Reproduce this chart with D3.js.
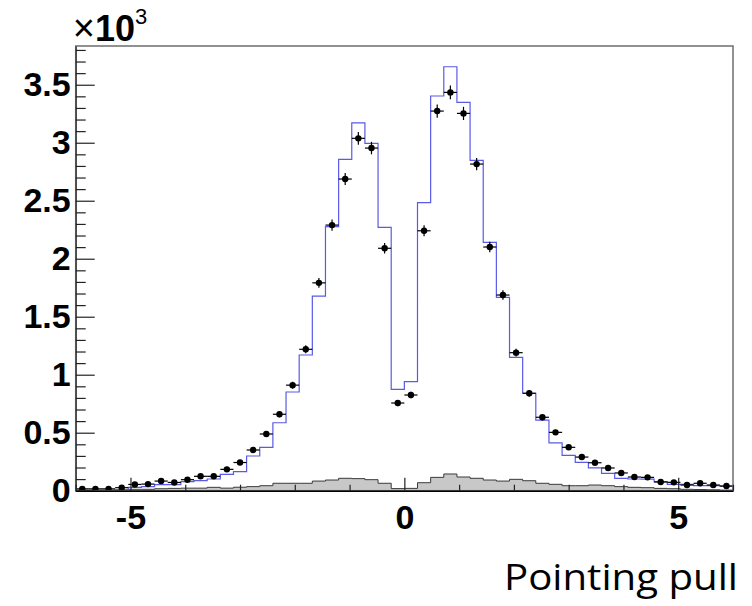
<!DOCTYPE html>
<html>
<head>
<meta charset="utf-8">
<script src="https://cdn.jsdelivr.net/npm/d3@7"></script>
<style>
  body { margin: 0; background: #fff; }
  svg { display: block; }
</style>
</head>
<body>
<svg width="752" height="606"></svg>
<script>
// values in units of 10^3 entries, 50 bins of width 0.24 from -6 to 6
const binWidth = 0.24;
const binLow = d3.range(50).map(i => -6 + i * binWidth);

const dataCounts = [0.016, 0.016, 0.016, 0.026, 0.054, 0.057, 0.083, 0.071, 0.095, 0.124,
                    0.124, 0.184, 0.243, 0.351, 0.489, 0.659, 0.910, 1.219, 1.792, 2.290,
                    2.687, 3.038, 2.954, 2.090, 0.756, 0.825, 2.241, 3.273, 3.434, 3.253,
                    2.816, 2.101, 1.687, 1.190, 0.840, 0.633, 0.503, 0.374, 0.290, 0.241,
                    0.196, 0.153, 0.118, 0.115, 0.075, 0.072, 0.049, 0.064, 0.049, 0.040];

const dataErrors = [0.004, 0.004, 0.004, 0.005, 0.007, 0.008, 0.009, 0.008, 0.010, 0.011,
                    0.011, 0.014, 0.016, 0.019, 0.022, 0.026, 0.030, 0.035, 0.042, 0.048,
                    0.052, 0.055, 0.054, 0.046, 0.027, 0.029, 0.047, 0.057, 0.059, 0.057,
                    0.053, 0.046, 0.041, 0.034, 0.029, 0.025, 0.022, 0.019, 0.017, 0.016,
                    0.014, 0.012, 0.011, 0.011, 0.009, 0.008, 0.007, 0.008, 0.007, 0.006];

const mcCounts = [0.005, 0.005, 0.005, 0.010, 0.029, 0.035, 0.052, 0.052, 0.078, 0.086,
                  0.101, 0.141, 0.164, 0.299, 0.374, 0.586, 0.851, 1.170, 1.678, 2.276,
                  2.857, 3.172, 2.995, 2.270, 0.874, 0.940, 2.483, 3.403, 3.655, 3.348,
                  2.848, 2.141, 1.667, 1.150, 0.840, 0.609, 0.412, 0.305, 0.245, 0.196,
                  0.150, 0.107, 0.101, 0.100, 0.078, 0.055, 0.055, 0.043, 0.043, 0.040];

const bkgCounts = [0.003, 0.003, 0.003, 0.004, 0.012, 0.012, 0.017, 0.020, 0.022, 0.022,
                   0.029, 0.022, 0.030, 0.035, 0.043, 0.064, 0.064, 0.064, 0.083, 0.092,
                   0.107, 0.104, 0.095, 0.064, 0.018, 0.020, 0.069, 0.115, 0.144, 0.118,
                   0.107, 0.092, 0.083, 0.098, 0.086, 0.064, 0.055, 0.043, 0.043, 0.049,
                   0.043, 0.035, 0.029, 0.026, 0.020, 0.017, 0.012, 0.010, 0.008, 0.005];

const xTicks = [-5, 0, 5];
const xMinor = [-6, -4, -3, -2, -1, 1, 2, 3, 4, 6];
const yTicks = [0, 0.5, 1, 1.5, 2, 2.5, 3, 3.5];
const yMinor = d3.range(0, 3.85, 0.1).map(d => +d.toFixed(1));

const svg = d3.select("svg");
const pLeft = 75.7, pRight = 733, pTop = 46, pBottom = 490.7;

const x = d3.scaleLinear().domain([-6, 6]).range([pLeft, pRight]);
const y = d3.scaleLinear().domain([0, 3.834]).range([pBottom, pTop]);

function stepPath(vals) {
  let p = "M" + x(-6) + "," + y(0);
  vals.forEach((v, i) => {
    p += "L" + x(binLow[i]) + "," + y(v) + "L" + x(binLow[i] + binWidth) + "," + y(v);
  });
  p += "L" + x(6) + "," + y(0);
  return p;
}

// background histogram (grey filled)
svg.append("path")
  .attr("d", stepPath(bkgCounts) + "Z")
  .attr("fill", "#c8c8c8")
  .attr("stroke", "#3a3a3a")
  .attr("stroke-width", 1);

// simulation histogram (blue line)
svg.append("path")
  .attr("d", stepPath(mcCounts))
  .attr("fill", "none")
  .attr("stroke", "#5a5ae6")
  .attr("stroke-width", 1.2);

// data points with error bars
const pts = svg.append("g");
dataCounts.forEach((v, i) => {
  const cx = x(binLow[i] + binWidth / 2);
  pts.append("line")
    .attr("x1", x(binLow[i])).attr("x2", x(binLow[i] + binWidth))
    .attr("y1", y(v)).attr("y2", y(v))
    .attr("stroke", "#000").attr("stroke-width", 1.2);
  pts.append("line")
    .attr("x1", cx).attr("x2", cx)
    .attr("y1", y(v - dataErrors[i])).attr("y2", y(v + dataErrors[i]))
    .attr("stroke", "#000").attr("stroke-width", 1.2);
  pts.append("circle")
    .attr("cx", cx).attr("cy", y(v))
    .attr("r", 3.2)
    .attr("fill", "#000");
});

// frame
svg.append("rect")
  .attr("x", pLeft).attr("y", pTop)
  .attr("width", pRight - pLeft).attr("height", pBottom - pTop)
  .attr("fill", "none")
  .attr("stroke", "#6e6e6e")
  .attr("stroke-width", 1.5);

// y axis
const yAxis = d3.axisLeft(y).tickValues(yTicks).tickSizeInner(-19).tickSizeOuter(0)
  .tickPadding(5).tickFormat(d => d);
const yg = svg.append("g").attr("transform", "translate(" + pLeft + ",0)").call(yAxis);
yg.select(".domain").attr("stroke", "#444").attr("stroke-width", 1.5);
yg.selectAll(".tick line").attr("stroke", "#222").attr("stroke-width", 1.2);
yg.selectAll("text")
  .attr("font-family", "Liberation Sans, Arial, sans-serif")
  .attr("font-weight", "bold")
  .attr("font-size", 34)
  .attr("fill", "#000");

const yMinorAxis = d3.axisLeft(y).tickValues(yMinor.filter(d => !yTicks.includes(d)))
  .tickSizeInner(-10).tickSizeOuter(0).tickFormat("");
const ymg = svg.append("g").attr("transform", "translate(" + pLeft + ",0)").call(yMinorAxis);
ymg.select(".domain").remove();
ymg.selectAll(".tick line").attr("stroke", "#222").attr("stroke-width", 1.2);

// x axis
const xAxis = d3.axisBottom(x).tickValues(xTicks).tickSizeInner(-13).tickSizeOuter(0)
  .tickPadding(14).tickFormat(d => d === -5 ? "-5" : d);
const xg = svg.append("g").attr("transform", "translate(0," + pBottom + ")").call(xAxis);
xg.select(".domain").attr("stroke", "#000").attr("stroke-width", 1.5);
xg.selectAll(".tick line").attr("stroke", "#222").attr("stroke-width", 1.2);
xg.selectAll("text")
  .attr("font-family", "Liberation Sans, Arial, sans-serif")
  .attr("font-weight", "bold")
  .attr("font-size", 34)
  .attr("fill", "#000");

const xMinorAxis = d3.axisBottom(x).tickValues(xMinor).tickSizeInner(-6).tickSizeOuter(0).tickFormat("");
const xmg = svg.append("g").attr("transform", "translate(0," + pBottom + ")").call(xMinorAxis);
xmg.select(".domain").remove();
xmg.selectAll(".tick line").attr("stroke", "#222").attr("stroke-width", 1.2);

// exponent label
const expo = svg.append("text")
  .attr("x", pLeft - 3).attr("y", 41)
  .attr("font-family", "Liberation Sans, Arial, sans-serif")
  .attr("fill", "#000");
expo.append("tspan").attr("font-size", 38).text("\u00d7");
expo.append("tspan").attr("font-size", 36).attr("font-weight", "bold").text("10");
expo.append("tspan").attr("font-size", 22).attr("dy", -17).text("3");

// axis title
svg.append("text")
  .attr("x", 738).attr("y", 590)
  .attr("text-anchor", "end")
  .attr("font-family", "'Open Sans', 'Noto Sans', sans-serif")
  .attr("font-size", 37)
  .attr("textLength", 234)
  .attr("lengthAdjust", "spacingAndGlyphs")
  .attr("fill", "#000")
  .text("Pointing pull");
</script>
</body>
</html>
